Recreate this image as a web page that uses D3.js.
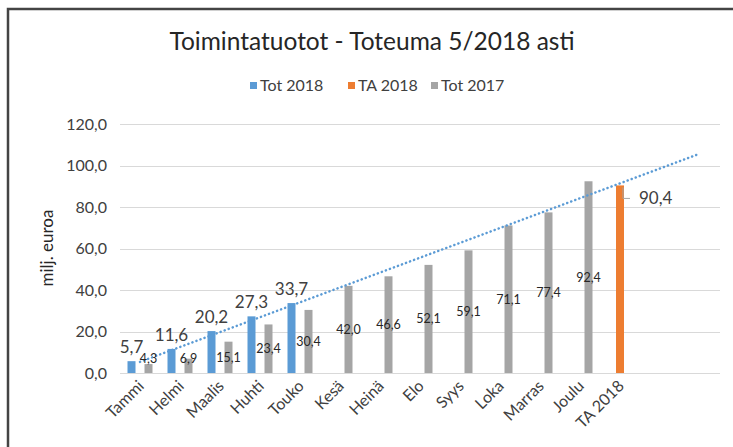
<!DOCTYPE html>
<html>
<head>
<meta charset="utf-8">
<title>Toimintatuotot</title>
<script src="https://d3js.org/d3.v7.min.js"></script>
<style>
  body { margin: 0; background: #fff; }
  svg { display: block; font-family: Lato, "Open Sans", sans-serif; }
  .grid line { stroke: #d9d9d9; stroke-width: 1; }
  .tick text { fill: #404040; }
</style>
</head>
<body>
<div id="chart"></div>
<script>
// months + budget column, two empty slots after that (trendline runs into them)
var categories = ["Tammi", "Helmi", "Maalis", "Huhti", "Touko", "Kesä", "Heinä", "Elo", "Syys", "Loka", "Marras", "Joulu", "TA 2018"];
var slotCount = 15;

var tot2018 = [5.7, 11.6, 20.2, 27.3, 33.7];
var tot2017 = [4.3, 6.9, 15.1, 23.4, 30.4, 42.0, 46.6, 52.1, 59.1, 71.1, 77.4, 92.4];
var ta2018 = [{ cat: 12, value: 90.4 }];

var yTicks = [0, 20, 40, 60, 80, 100, 120];
var seriesNames = ["Tot 2018", "TA 2018", "Tot 2017"];
var colors = { "Tot 2018": "#5b9bd5", "TA 2018": "#ed7d31", "Tot 2017": "#a5a5a5" };

var W = 733, H = 447;
var fmt = function(v) { return d3.format(".1f")(v).replace(".", ","); };

var svg = d3.select("#chart").append("svg")
  .attr("width", W)
  .attr("height", H);

svg.append("rect")
  .attr("width", W).attr("height", H)
  .attr("fill", "#fff");

// chart frame
svg.append("rect")
  .attr("x", 8).attr("y", 9)
  .attr("width", 760).attr("height", 460)
  .attr("fill", "none")
  .attr("stroke", "#444")
  .attr("stroke-width", 2.5);

var x = d3.scaleBand()
  .domain(d3.range(slotCount))
  .range([120, 720])
  .padding(0);

var y = d3.scaleLinear()
  .domain([0, 120])
  .range([373, 124]);

var cx = function(i) { return x(i) + x.bandwidth() / 2; };
var barW = 8, slot = 8.5;

// title
svg.append("text")
  .attr("x", 372).attr("y", 50)
  .attr("text-anchor", "middle")
  .attr("font-size", 24.5)
  .attr("fill", "#262626")
  .text("Toimintatuotot - Toteuma 5/2018 asti");

// legend
var legendX = [250, 348, 431];
var legend = svg.append("g").selectAll("g")
  .data(seriesNames)
  .enter().append("g")
  .attr("transform", function(d, i) { return "translate(" + legendX[i] + ",0)"; });
legend.append("rect")
  .attr("x", 0).attr("y", 82)
  .attr("width", 7).attr("height", 7)
  .attr("fill", function(d) { return colors[d]; });
legend.append("text")
  .attr("x", 10).attr("y", 91)
  .attr("font-size", 16)
  .attr("fill", "#404040")
  .text(function(d) { return d; });

// gridlines
svg.append("g")
  .attr("class", "grid")
  .selectAll("line")
  .data(yTicks)
  .enter().append("line")
  .attr("x1", 120).attr("x2", 720)
  .attr("y1", function(d) { return Math.round(y(d)) + 0.5; })
  .attr("y2", function(d) { return Math.round(y(d)) + 0.5; });

// y axis
var yAxis = svg.append("g")
  .attr("transform", "translate(113,0)")
  .call(d3.axisLeft(y).tickValues(yTicks).tickFormat(fmt).tickSize(0).tickPadding(6));
yAxis.select(".domain").remove();
yAxis.selectAll("text").attr("font-size", 16).attr("font-family", "Lato, sans-serif");

svg.append("text")
  .attr("transform", "translate(53,248) rotate(-90)")
  .attr("text-anchor", "middle")
  .attr("font-size", 17)
  .attr("fill", "#262626")
  .text("milj. euroa");

// x labels
svg.append("g").selectAll("text")
  .data(categories)
  .enter().append("text")
  .attr("transform", function(d, i) { return "translate(" + (cx(i) + 5) + ",387) rotate(-45)"; })
  .attr("text-anchor", "end")
  .attr("font-size", 16)
  .attr("fill", "#404040")
  .text(function(d) { return d; });

// bars
var bars = svg.append("g");
bars.selectAll(".b18")
  .data(tot2018)
  .enter().append("rect")
  .attr("x", function(d, i) { return cx(i) - slot - barW / 2; })
  .attr("y", function(d) { return y(d); })
  .attr("width", barW)
  .attr("height", function(d) { return y(0) - y(d); })
  .attr("fill", colors["Tot 2018"]);

bars.selectAll(".b17")
  .data(tot2017)
  .enter().append("rect")
  .attr("x", function(d, i) { return cx(i) + slot - barW / 2; })
  .attr("y", function(d) { return y(d); })
  .attr("width", barW)
  .attr("height", function(d) { return y(0) - y(d); })
  .attr("fill", colors["Tot 2017"]);

bars.selectAll(".bta")
  .data(ta2018)
  .enter().append("rect")
  .attr("x", function(d) { return cx(d.cat) - barW / 2; })
  .attr("y", function(d) { return y(d.value); })
  .attr("width", barW)
  .attr("height", function(d) { return y(0) - y(d.value); })
  .attr("fill", colors["TA 2018"]);

// linear trendline of Tot 2018, forward to the last slot
var mx = d3.mean(tot2018, function(d, i) { return i; });
var my = d3.mean(tot2018);
var slope = d3.sum(tot2018, function(d, i) { return (i - mx) * (d - my); }) /
            d3.sum(tot2018, function(d, i) { return (i - mx) * (i - mx); });
var trend = [0, slotCount - 1].map(function(i) { return { i: i, v: my + slope * (i - mx) }; });

svg.append("path")
  .datum(trend)
  .attr("d", d3.line().x(function(d) { return cx(d.i); }).y(function(d) { return y(d.v); }))
  .attr("fill", "none")
  .attr("stroke", colors["Tot 2018"])
  .attr("stroke-width", 2.5)
  .attr("stroke-linecap", "round")
  .attr("stroke-dasharray", "0.1,4.2");

// labels
var labels = svg.append("g");
labels.selectAll(".l18")
  .data(tot2018)
  .enter().append("text")
  .attr("x", function(d, i) { return cx(i) - slot; })
  .attr("y", function(d) { return y(d) - 8; })
  .attr("text-anchor", "middle")
  .attr("font-size", 17)
  .attr("fill", "#404040")
  .text(fmt);

labels.selectAll(".l17")
  .data(tot2017)
  .enter().append("text")
  .attr("x", function(d, i) { return cx(i) + slot; })
  .attr("y", function(d) { return Math.min((y(d) + y(0)) / 2, 358) + 4.5; })
  .attr("text-anchor", "middle")
  .attr("font-size", 12.5)
  .attr("fill", "#262626")
  .text(fmt);

ta2018.forEach(function(d) {
  var bx = cx(d.cat), by = y(d.value);
  labels.append("polyline")
    .attr("points", [[bx + 3, by + 2], [bx + 3, by + 13], [bx + 10, by + 13]].join(" "))
    .attr("fill", "none")
    .attr("stroke", "#a5a5a5")
    .attr("stroke-width", 1);
  labels.append("text")
    .attr("x", bx + 19)
    .attr("y", by + 19)
    .attr("font-size", 17)
    .attr("fill", "#404040")
    .text(fmt(d.value));
});
</script>
</body>
</html>
